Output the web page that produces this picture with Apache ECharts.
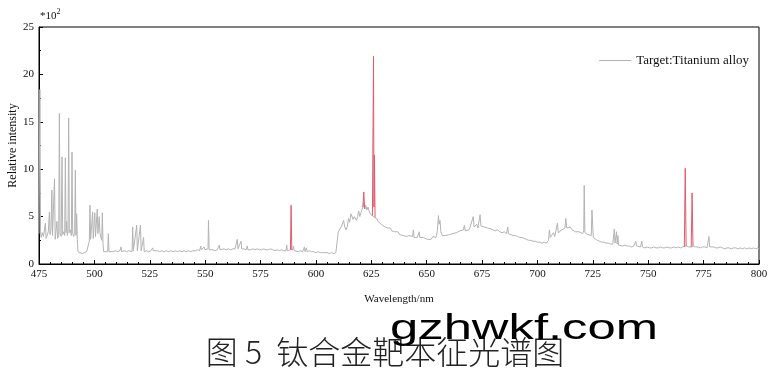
<!DOCTYPE html>
<html><head><meta charset="utf-8">
<script src="https://cdn.jsdelivr.net/npm/echarts@6/dist/echarts.min.js"></script>
<style>html,body{margin:0;padding:0;background:#fff}#c{width:772px;height:376px}</style>
</head><body><div id="c"></div>
<script>
// x-axis ticks
const xTicks = [475, 500, 525, 550, 575, 600, 625, 650, 675, 700, 725, 750, 775, 800];
const yTicks = [0, 5, 10, 15, 20, 25];
const seriesName = 'Target:Titanium alloy';

// Grey spectrum: [wavelength nm, relative intensity (x10^2)]
const spectrum = [
[475.0,3.2],[475.4,18.4],[475.7,3.4],[476.0,2.8],[476.5,3.3],[477.0,2.9],[477.5,3.1],[477.9,4.3],[478.2,2.7],[478.7,3.0],
[479.2,3.4],[479.7,5.5],[480.0,3.1],[480.4,3.6],[480.8,7.8],[481.1,3.0],[481.6,2.9],[482.0,9.0],[482.3,2.6],[482.7,2.8],
[483.1,4.5],[483.4,2.7],[483.9,3.0],[484.2,15.9],[484.5,3.2],[485.0,2.9],[485.4,11.3],[485.7,3.1],[486.2,3.4],[486.6,3.0],
[486.9,11.2],[487.2,3.3],[487.5,4.5],[487.8,3.0],[488.1,3.4],[488.4,15.4],[488.7,3.3],[489.2,3.6],[489.6,3.0],[489.9,11.8],
[490.2,3.2],[490.7,2.9],[491.1,3.4],[491.4,9.9],[491.7,3.0],[492.0,5.3],[492.3,2.6],[492.6,1.3],[493.5,1.2],[494.5,1.1],
[495.5,1.2],[496.5,1.3],[497.3,1.4],[497.7,2.4],[498.0,6.2],[498.3,2.6],[498.8,2.4],[499.2,5.5],[499.5,2.7],[499.9,2.8],
[500.2,5.4],[500.5,2.9],[500.9,3.0],[501.3,5.8],[501.6,3.2],[501.9,3.3],[502.2,5.0],[502.5,3.3],[502.9,2.8],[503.3,2.5],
[503.6,5.4],[503.9,2.1],[504.2,1.3],[505.0,1.3],[506.0,1.3],[506.3,3.2],[506.6,1.3],[507.5,1.4],[508.5,1.3],[509.5,1.4],
[510.5,1.3],[511.5,1.4],[512.0,1.8],[512.3,1.3],[513.5,1.4],[514.5,1.3],[515.5,1.4],[516.0,1.6],[516.3,1.3],[517.0,1.3],
[517.3,3.9],[517.6,1.4],[518.5,1.3],[519.1,4.1],[519.4,1.4],[520.3,1.4],[520.8,4.1],[521.1,1.4],[521.7,1.3],[522.2,2.8],
[522.5,1.3],[523.5,1.4],[524.5,1.3],[525.5,1.4],[526.3,1.7],[526.6,1.4],[527.5,1.3],[528.5,1.4],[529.5,1.3],[530.5,1.4],
[531.5,1.3],[532.5,1.4],[533.5,1.3],[534.5,1.4],[535.5,1.3],[536.5,1.4],[537.5,1.3],[538.5,1.4],[539.5,1.3],[540.5,1.4],
[541.5,1.3],[542.5,1.4],[543.5,1.3],[544.5,1.4],[545.5,1.4],[546.5,1.5],[547.5,1.4],[548.0,1.9],[548.3,1.5],[549.0,1.4],
[549.5,1.8],[549.8,1.5],[550.5,1.4],[551.3,1.6],[551.5,4.6],[551.8,1.5],[552.5,1.4],[553.5,1.5],[554.5,1.4],[555.5,1.5],
[556.2,1.5],[556.4,2.0],[556.7,1.5],[557.5,1.5],[558.5,1.6],[559.5,1.5],[560.5,1.6],[561.5,1.5],[562.5,1.6],[563.5,1.6],
[564.3,1.7],[564.5,2.6],[564.8,1.6],[565.5,1.7],[566.2,2.4],[566.5,1.6],[567.5,1.6],[568.5,1.5],[569.0,1.9],[569.3,1.5],
[570.5,1.5],[571.5,1.6],[572.5,1.5],[573.5,1.6],[574.5,1.5],[575.5,1.5],[576.5,1.6],[577.5,1.5],[578.5,1.5],[579.5,1.6],
[580.5,1.5],[581.5,1.4],[582.5,1.5],[583.5,1.4],[584.5,1.5],[585.5,1.4],[586.5,1.4],[586.8,2.0],[587.1,1.4],[588.0,1.4],
[588.5,1.5],[589.1,1.5],[589.6,1.5],[589.9,1.9],[590.2,1.4],[591.0,1.4],[592.0,1.3],[593.0,1.4],[594.0,1.3],[594.8,1.8],
[595.1,1.3],[595.7,1.7],[596.0,1.3],[597.0,1.4],[598.0,1.3],[599.0,1.3],[600.0,1.2],[601.0,1.3],[602.0,1.2],[603.0,1.2],
[604.0,1.2],[605.0,1.2],[606.0,1.1],[607.0,1.2],[608.0,1.1],[609.0,1.2],[609.9,1.1],[610.1,3.4],[610.6,3.6],[611.0,3.3],
[611.6,4.0],[612.0,3.8],[612.5,4.6],[613.0,3.9],[613.6,3.6],[614.2,4.0],[614.7,4.8],[615.2,4.4],[615.8,5.3],[616.3,5.4],
[616.8,4.7],[617.3,5.0],[617.8,5.2],[618.3,4.6],[618.8,5.0],[619.3,5.6],[619.8,5.0],[620.3,5.4],[620.8,5.6],[621.2,6.0],
[621.6,6.5],[622.0,5.8],[622.5,6.2],[623.0,5.7],[623.5,6.0],[624.0,5.6],[624.5,5.3],[625.0,5.5],[625.5,5.1],[626.0,5.0],
[626.5,4.9],[627.0,4.7],[627.5,4.8],[628.0,4.5],[628.5,4.6],[629.0,4.3],[629.5,4.4],[630.0,4.1],[630.6,4.2],[631.2,3.9],
[631.8,4.0],[632.4,3.8],[633.0,3.7],[633.6,3.8],[634.2,3.5],[634.8,3.6],[635.5,3.4],[636.2,3.3],[637.0,3.4],[637.8,3.1],
[638.6,3.2],[639.4,3.0],[640.2,3.1],[641.0,2.9],[642.0,3.0],[642.8,2.8],[643.6,2.9],[644.0,3.6],[644.3,2.8],[645.0,2.9],
[645.8,2.8],[646.6,3.4],[646.9,2.8],[647.6,2.7],[648.5,2.8],[649.4,2.7],[650.3,2.6],[651.2,2.7],[652.0,2.6],[652.8,2.9],
[653.5,2.7],[654.2,2.8],[654.8,3.5],[655.3,5.1],[655.6,4.2],[656.0,4.6],[656.4,3.4],[657.0,3.0],[657.8,2.9],[658.6,3.0],
[659.4,2.9],[660.2,3.1],[661.0,3.0],[661.8,3.2],[662.6,3.1],[663.4,3.3],[664.2,3.2],[665.0,3.5],[665.8,3.4],[666.6,3.6],
[667.0,4.1],[667.4,3.5],[668.2,3.7],[669.0,3.6],[669.6,3.9],[670.3,3.7],[671.0,5.0],[671.4,3.9],[672.0,4.1],[672.6,4.2],
[673.1,3.8],[673.7,4.0],[674.1,5.2],[674.5,4.0],[675.2,3.8],[676.0,3.9],[676.6,3.7],[677.4,3.8],[678.2,3.6],[679.0,3.7],
[680.0,3.6],[681.0,3.5],[682.0,3.6],[683.0,3.4],[684.0,3.3],[685.0,3.4],[686.0,3.2],[686.6,3.9],[686.9,3.2],[688.0,3.1],
[689.0,3.0],[690.0,3.0],[691.0,2.9],[692.0,2.8],[693.0,2.8],[694.0,2.7],[695.0,2.6],[696.0,2.5],[697.0,2.5],[698.0,2.4],
[699.0,2.4],[700.0,2.3],[701.0,2.3],[702.0,2.2],[703.0,2.3],[704.0,2.2],[705.0,2.5],[705.4,3.6],[705.8,2.8],[706.6,3.0],
[707.2,3.3],[707.8,2.9],[708.5,3.1],[709.0,4.3],[709.4,3.3],[710.2,3.4],[711.0,3.6],[711.8,3.5],[712.4,3.8],[712.8,4.8],
[713.2,3.8],[714.0,3.7],[714.8,3.9],[715.6,3.6],[716.4,3.5],[717.2,3.4],[718.0,3.3],[718.8,3.4],[719.6,3.3],[720.4,3.2],
[720.9,3.5],[721.1,8.3],[721.4,3.3],[722.0,3.2],[722.8,3.1],[723.6,3.0],[724.3,3.0],[724.6,5.7],[724.9,5.6],[725.2,2.8],
[726.0,2.7],[727.0,2.5],[728.0,2.4],[729.0,2.3],[730.0,2.3],[731.0,2.2],[732.0,2.2],[733.0,2.1],[734.0,2.1],[734.7,3.7],
[735.0,2.2],[735.7,3.4],[736.0,2.1],[736.3,3.0],[736.6,2.0],[737.5,2.0],[738.5,1.9],[739.5,2.0],[740.5,1.9],[741.5,1.9],
[742.5,1.8],[743.5,1.9],[744.2,1.9],[744.4,2.4],[744.7,1.9],[745.5,1.8],[746.5,1.8],[747.1,2.4],[747.4,1.8],[748.5,1.7],
[749.5,1.8],[750.5,1.7],[751.5,1.7],[752.5,1.8],[753.5,1.7],[754.5,1.7],[755.5,1.8],[756.5,1.7],[757.5,1.7],[758.5,1.8],
[759.5,1.7],[760.5,1.7],[761.5,1.8],[762.5,1.7],[763.5,1.8],[764.5,1.7],[765.5,1.8],[766.3,1.8],[767.3,1.9],[768.3,1.8],
[769.4,1.8],[770.4,1.9],[771.5,1.8],[772.5,1.8],[773.5,1.7],[774.5,1.8],[775.5,1.8],[776.5,1.7],[777.2,1.8],[777.4,2.9],
[777.7,1.8],[778.5,1.7],[779.5,1.8],[780.5,1.7],[781.5,1.7],[782.5,1.8],[783.5,1.7],[784.5,1.6],[785.5,1.7],[786.5,1.7],
[787.5,1.6],[788.5,1.7],[789.5,1.7],[790.5,1.6],[791.5,1.7],[792.5,1.6],[793.5,1.7],[794.5,1.6],[795.5,1.7],[796.5,1.6],
[797.5,1.7],[798.5,1.6],[799.5,1.7],[800.0,1.6]
];

// Highlighted (red) lines, each a small list of [wavelength, intensity]
const peakLabels = ['A', 'B', 'C', 'D', 'E'];
const peakA = [[588.5,1.5],[588.8,6.2],[589.1,1.5]];
const peakB = [[621.2,6.0],[621.6,7.6],[622.0,5.8]];
const peakC = [[625.5,5.1],[626.0,21.9],[626.2,6.0],[626.4,11.5],[626.7,4.9]];
const peakD = [[766.3,1.8],[766.7,10.1],[767.1,1.9]];
const peakE = [[769.4,1.8],[769.8,7.5],[770.2,1.9]];
const peakLines = [peakA, peakB, peakC, peakD, peakE];

const SERIF = '"Liberation Serif","Times New Roman",serif';
const chart = echarts.init(document.getElementById('c'));

const redSeries = peakLines.map((pts, i) => {
  let top = 0;
  pts.forEach((p, j) => { if (p[1] > pts[top][1]) top = j; });
  return {
    type: 'line', name: 'peak' + peakLabels[i], symbol: 'none', silent: true,
    lineStyle: { color: '#e05a6a', width: 1 }, itemStyle: { color: '#e05a6a' }, z: 3,
    data: pts.map((p, j) => j === top ? {
      value: p,
      label: { show: true, formatter: peakLabels[i], position: 'top', distance: 4,
               fontFamily: SERIF, fontSize: 12, color: '#111' }
    } : { value: p })
  };
});

chart.setOption({
  animation: false,
  grid: { left: 39, right: 13, top: 27, bottom: 112, show: true, borderColor: '#000', borderWidth: 1,
          outerBoundsMode: 'none', containLabel: false },
  legend: {
    show: true, data: [{ name: seriesName, icon: 'rect' }], right: 18, top: 49, itemWidth: 32, itemHeight: 1, itemGap: 6,
    itemStyle: { color: '#b3b3b3' },
    textStyle: { fontFamily: SERIF, fontSize: 13, color: '#111' }
  },
  xAxis: {
    type: 'value', min: xTicks[0], max: xTicks[xTicks.length - 1], interval: 25,
    name: 'Wavelength/nm', nameLocation: 'middle', nameGap: 30,
    nameTextStyle: { fontFamily: SERIF, fontSize: 11, color: '#111' },
    axisLine: { lineStyle: { color: '#000', width: 1 } },
    axisTick: { inside: true, length: 4, lineStyle: { color: '#000' } },
    minorTick: { show: true, splitNumber: 5, length: 2, lineStyle: { color: '#000' } },
    axisLabel: { fontFamily: SERIF, fontSize: 11, color: '#111', margin: 5 },
    splitLine: { show: false }
  },
  yAxis: {
    type: 'value', min: yTicks[0], max: yTicks[yTicks.length - 1], interval: 5,
    name: 'Relative intensity', nameLocation: 'middle', nameGap: 20, nameRotate: 90, nameMoveOverlap: false,
    nameTextStyle: { fontFamily: SERIF, fontSize: 12, color: '#111' },
    axisLine: { show: true, lineStyle: { color: '#000', width: 1 } },
    axisTick: { show: true, inside: true, length: 4, lineStyle: { color: '#000' } },
    minorTick: { show: true, splitNumber: 2, length: 2, lineStyle: { color: '#000' } },
    axisLabel: { fontFamily: SERIF, fontSize: 11, color: '#111', margin: 5 },
    splitLine: { show: false }
  },
  graphic: [
    { type: 'text', left: 40, top: 8,
      style: { text: '{a|*10}{b|2}', rich: {
        a: { fontFamily: SERIF, fontSize: 11, fill: '#111', verticalAlign: 'bottom' },
        b: { fontFamily: SERIF, fontSize: 8, fill: '#111', verticalAlign: 'top', padding: [0,0,6,0] } } } },
    { type: 'text', x: 385, y: 352,
      style: { text: '图 5  钛合金靶本征光谱图', fontFamily: '"Noto Sans CJK SC"', fontSize: 32, fontWeight: 300,
               fill: '#222', align: 'center', verticalAlign: 'middle' } },
    { type: 'text', x: 524, y: 329, scaleX: 1.45, scaleY: 1, originX: 0, originY: 0,
      style: { text: 'gzhwkf.com', fontFamily: '"Liberation Sans",Arial,sans-serif', fontSize: 35,
               fill: '#000', align: 'center', verticalAlign: 'middle' }, z: 10 }
  ],
  series: [
    { type: 'line', name: seriesName, symbol: 'none', silent: true, z: 2,
      lineStyle: { color: '#b3b3b3', width: 1 }, itemStyle: { color: '#b3b3b3' },
      data: spectrum }
  ].concat(redSeries)
});
</script></body></html>
